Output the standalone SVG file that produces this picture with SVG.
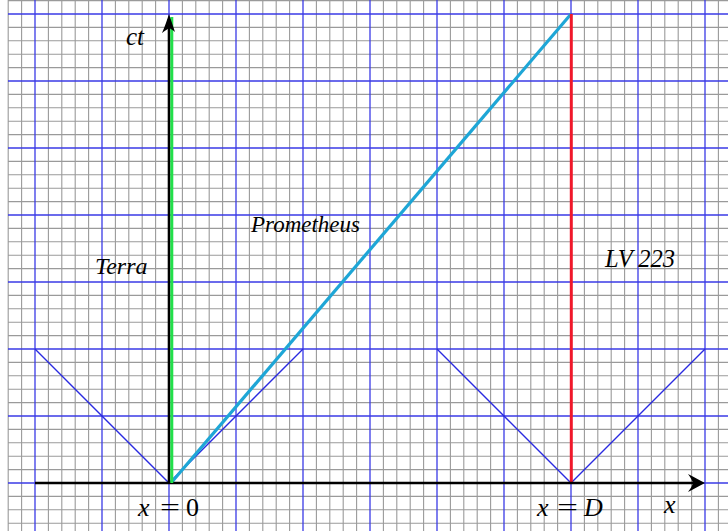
<svg xmlns="http://www.w3.org/2000/svg" width="728" height="531" viewBox="0 0 728 531">
<style>
.minor{stroke:#9a9a9a;stroke-width:1.1;fill:none}
.major{stroke:#3b3be6;stroke-width:1.3;fill:none}
.cone{stroke:#2a2ae0;stroke-width:1.4;fill:none}
.axis{stroke:#000;stroke-width:2.6;fill:none}
.lbl{font-family:"Liberation Serif","Times New Roman",serif;font-style:italic;fill:#000}
.up{font-style:normal}
</style>
<rect width="728" height="531" fill="#fff"/>
<g id="grid">
<path class="minor" d="M8.2 0V531M21.6 0V531M48.4 0V531M61.8 0V531M75.2 0V531M88.6 0V531M115.4 0V531M128.8 0V531M142.2 0V531M155.6 0V531M182.4 0V531M195.8 0V531M209.2 0V531M222.6 0V531M249.4 0V531M262.8 0V531M276.2 0V531M289.6 0V531M316.4 0V531M329.8 0V531M343.2 0V531M356.6 0V531M383.4 0V531M396.8 0V531M410.2 0V531M423.6 0V531M450.4 0V531M463.8 0V531M477.2 0V531M490.6 0V531M517.4 0V531M530.8 0V531M544.2 0V531M557.6 0V531M584.4 0V531M597.8 0V531M611.2 0V531M624.6 0V531M651.4 0V531M664.8 0V531M678.2 0V531M691.6 0V531M718.4 0V531"/>
<path class="minor" d="M8 0.6H728M8 27.4H728M8 40.8H728M8 54.2H728M8 67.6H728M8 94.4H728M8 107.8H728M8 121.2H728M8 134.6H728M8 161.4H728M8 174.8H728M8 188.2H728M8 201.6H728M8 228.4H728M8 241.8H728M8 255.2H728M8 268.6H728M8 295.4H728M8 308.8H728M8 322.2H728M8 335.6H728M8 362.4H728M8 375.8H728M8 389.2H728M8 402.6H728M8 429.4H728M8 442.8H728M8 456.2H728M8 469.6H728M8 496.4H728M8 509.8H728M8 523.2H728"/>
<path class="major" d="M35 0V531M102 0V531M169 0V531M236 0V531M303 0V531M370 0V531M437 0V531M504 0V531M571 0V531M638 0V531M705 0V531"/>
<path class="major" d="M8 14H728M8 81H728M8 148H728M8 215H728M8 282H728M8 349H728M8 416H728M8 483H728"/>
</g>
<g id="lightcones">
<path class="cone" d="M35 349L169 483L303 349"/>
<path class="cone" d="M437 349L571 483L705 349"/>
</g>
<g id="connectors">
<path id="prometheus-line" d="M171 483L571 14" stroke="#1ea6d6" stroke-width="3.2" fill="none"/>
<path id="lv223-line" d="M571.3 14V483" stroke="#f0182a" stroke-width="3" fill="none"/>
<path class="axis" d="M35 483H700"/>
<path class="axis" d="M169 483V19"/>
<path id="terra-line" d="M171.8 483V17" stroke="#22e04a" stroke-width="3" fill="none"/>
<path d="M705 483C699 480 694 477 688 474C691 478 692 480 693 483C692 486 691 488 688 492C694 489 699 486 705 483Z" fill="#000"/>
<path d="M169 14C167 20 165 26 162 33C166 30 168 29 169 28C171 29 173 30 175 32C173 26 171 20 169 14Z" fill="#000"/>
</g>
<g id="labels">
<text class="lbl" x="126" y="45" font-size="25">ct</text>
<text class="lbl" x="95" y="274" font-size="24">Terra</text>
<text class="lbl" x="251" y="232" font-size="23">Prometheus</text>
<text class="lbl" x="605" y="267" font-size="24.5">LV 223</text>
<text class="lbl" font-size="26" y="516"><tspan x="138">x</tspan><tspan class="up" x="160" textLength="20" lengthAdjust="spacingAndGlyphs">=</tspan><tspan class="up" x="186">0</tspan></text>
<text class="lbl" font-size="26" y="516"><tspan x="537">x</tspan><tspan class="up" x="557" textLength="21" lengthAdjust="spacingAndGlyphs">=</tspan><tspan x="584">D</tspan></text>
<text class="lbl" x="664" y="513" font-size="26">x</text>
</g>
</svg>
